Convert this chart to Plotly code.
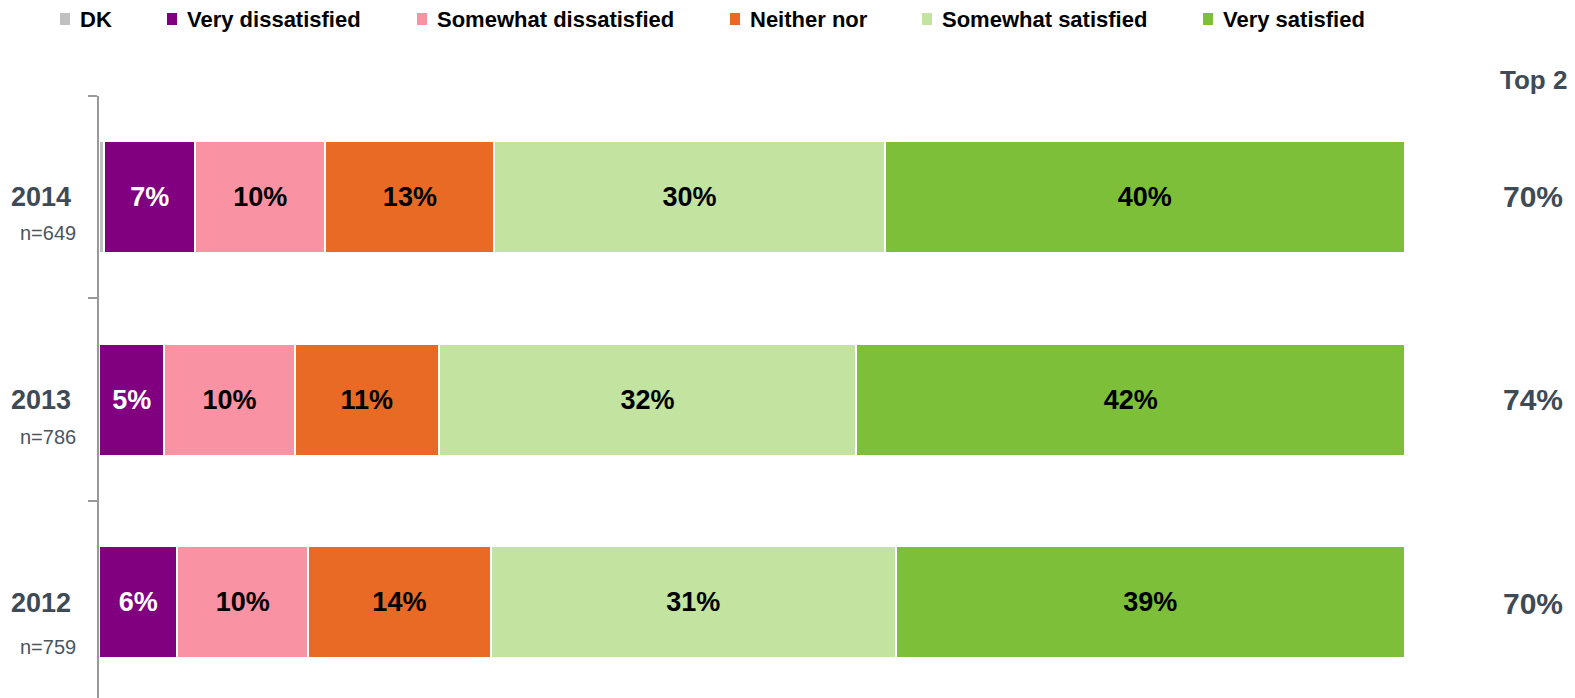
import plotly.graph_objects as go

# ---------------- data ----------------
years = ["2014", "2013", "2012"]
sample_sizes = ["n=649", "n=786", "n=759"]
series_names = ["DK", "Very dissatisfied", "Somewhat dissatisfied",
                "Neither nor", "Somewhat satisfied", "Very satisfied"]
dk = [0.4, 0, 0]
very_dissatisfied = [7, 5, 6]
somewhat_dissatisfied = [10, 10, 10]
neither_nor = [13, 11, 14]
somewhat_satisfied = [30, 32, 31]
very_satisfied = [40, 42, 39]
top2 = [70, 74, 70]

# ---------------- styles ----------------
colors = ["#c0c0c0", "#800080", "#f992a3", "#e86a25", "#c2e4a0", "#7dbf38"]
label_colors = ["black", "white", "black", "black", "black", "black"]
FONT = "Liberation Sans, Arial, sans-serif"
GREY_TXT = "#3e4a55"

# plot area in pixels
W, H = 1575, 698
L, R, T, B = 99, 1405, 96, 698


def px(x):
    return (x - L) / (R - L)


def py(y):
    return (B - y) / (B - T)


values = [dk, very_dissatisfied, somewhat_dissatisfied, neither_nor,
          somewhat_satisfied, very_satisfied]

fig = go.Figure()
for name, vals, col, tcol in zip(series_names, values, colors, label_colors):
    labels = [f"<b>{v:.0f}%</b>" if v >= 1 else "" for v in vals]
    fig.add_trace(go.Bar(
        name=name, y=years, x=vals, orientation="h",
        marker=dict(color=col, line=dict(color="white", width=2)),
        text=labels, textposition="inside", insidetextanchor="middle",
        textangle=0,
        textfont=dict(family=FONT, size=27, color=tcol),
        hoverinfo="skip", showlegend=False,
    ))

fig.update_layout(
    barmode="stack", barnorm="percent", bargap=0.447,
    width=W, height=H,
    margin=dict(l=L, r=W - R, t=T, b=H - B, pad=0),
    plot_bgcolor="white", paper_bgcolor="white",
    showlegend=False,
    xaxis=dict(range=[0, 100], visible=False, fixedrange=True),
    yaxis=dict(
        type="category", categoryorder="array", categoryarray=years,
        range=[2.473, -0.5], showticklabels=False, fixedrange=True,
        showline=True, linecolor="#999999", linewidth=2,
        ticks="outside", tickson="boundaries", ticklen=9,
        tickcolor="#999999", tickwidth=2, showgrid=False, zeroline=False,
    ),
)

# ---------------- manual legend ----------------
legend_marker_x = [60, 167, 417, 730, 922, 1203]
for name, col, mx in zip(series_names, colors, legend_marker_x):
    fig.add_shape(type="rect", xref="paper", yref="paper",
                  x0=px(mx), x1=px(mx + 10), y0=py(25), y1=py(13),
                  fillcolor=col, line=dict(width=0))
    fig.add_annotation(text=f"<b>{name}</b>", xref="paper", yref="paper",
                       x=px(mx + 18), y=py(19), xanchor="left", yanchor="middle",
                       showarrow=False,
                       font=dict(family=FONT, size=22, color="black"))

# ---------------- year / n labels ----------------
year_y = [197, 400, 603]
n_y = [233, 437, 647]
for yr, n, yy, ny in zip(years, sample_sizes, year_y, n_y):
    fig.add_annotation(text=f"<b>{yr}</b>", xref="paper", yref="paper",
                       x=px(41), y=py(yy), xanchor="center", yanchor="middle",
                       showarrow=False,
                       font=dict(family=FONT, size=27, color=GREY_TXT))
    fig.add_annotation(text=n, xref="paper", yref="paper",
                       x=px(78), y=py(ny), xanchor="right", yanchor="middle",
                       showarrow=False,
                       font=dict(family=FONT, size=20, color="#4a5560"))

# ---------------- Top 2 column ----------------
fig.add_annotation(text="<b>Top 2</b>", xref="paper", yref="paper",
                   x=px(1533), y=py(80), xanchor="center", yanchor="middle",
                   showarrow=False,
                   font=dict(family=FONT, size=26, color=GREY_TXT))
top2_y = [196, 399, 603]
for t, ty in zip(top2, top2_y):
    fig.add_annotation(text=f"<b>{t}%</b>", xref="paper", yref="paper",
                       x=px(1533), y=py(ty), xanchor="center", yanchor="middle",
                       showarrow=False,
                       font=dict(family=FONT, size=30, color=GREY_TXT))

fig.write_html(
    "out.html",
    config={"displayModeBar": False},
    post_script="document.body.style.margin='0';document.body.style.overflow='hidden';",
)
